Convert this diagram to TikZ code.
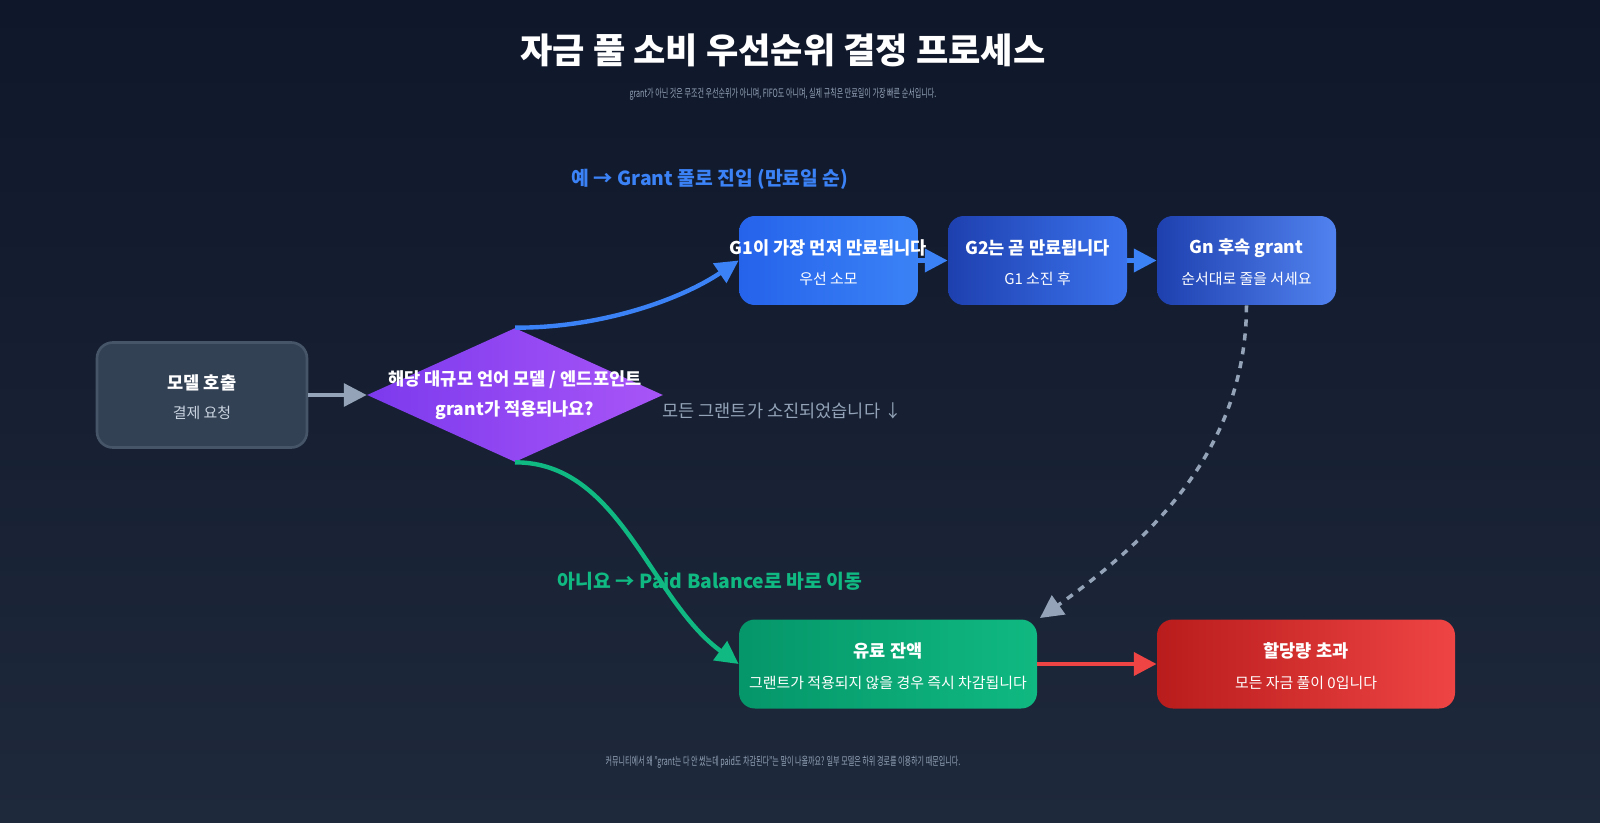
\documentclass[tikz,border=0pt]{standalone}
\usepackage{fontspec}
\usepackage{graphicx}
\setmainfont{Noto Sans CJK KR}
\usetikzlibrary{shapes.geometric,arrows.meta}
\definecolor{bgA}{HTML}{0F172A}\definecolor{bgB}{HTML}{1E293B}
\definecolor{slate}{HTML}{334155}\definecolor{slateB}{HTML}{475569}
\definecolor{gray1}{HTML}{94A3B8}\definecolor{gray2}{HTML}{CBD5E1}
\definecolor{blueA}{HTML}{2563EB}\definecolor{blueB}{HTML}{3B82F6}
\definecolor{blueD}{HTML}{1E40AF}
\definecolor{purA}{HTML}{7C3AED}\definecolor{purB}{HTML}{A855F7}
\definecolor{grnA}{HTML}{059669}\definecolor{grnB}{HTML}{10B981}
\definecolor{redA}{HTML}{B91C1C}\definecolor{redB}{HTML}{EF4444}
\begin{document}
\begin{tikzpicture}[x=0.02cm,y=-0.02cm,
 box/.style={rounded corners=9pt,minimum width=#1*0.02cm,minimum height=1.78cm,align=center,text=white,inner sep=0pt},
 tt/.style={font=\bfseries\fontsize{10}{12}\selectfont},
 st/.style={font=\fontsize{8.5}{10}\selectfont},
 tip/.style={-{Triangle[length=13pt,width=13pt]}},
 lab/.style={font=\bfseries\fontsize{11}{13}\selectfont}]
\shade[top color=bgA,bottom color=bgB] (0,0) rectangle (1600,822);
\useasboundingbox (0,0) rectangle (1600,822);
\node[text=white,font=\bfseries\fontsize{20}{24}\selectfont] (title) at (783,50) {자금 풀 소비 우선순위 결정 프로세스};
\node[text=gray1,font=\fontsize{6.5}{8}\selectfont] (sub) at (783,94) {\scalebox{0.62}[1]{grant가 아닌 것은 무조건 우선순위가 아니며, FIFO도 아니며, 실제 규칙은 만료일이 가장 빠른 순서입니다.}};
\node[box=210,fill=slate,draw=slateB,line width=1.5pt,minimum height=2.1cm] (model) at (202,395) {};
\node[text=white,tt] (mt) at (202,383) {모델 호출};
\node[text=gray2,st] (ms) at (202,413) {결제 요청};
\node[diamond,aspect=2.2,minimum width=5.92cm,minimum height=2.68cm,inner sep=0pt,left color=purA,right color=purB,draw=none] (dec) at (515,395) {};
\node[text=white,font=\bfseries\fontsize{10}{17}\selectfont,align=center] (dect) at (515,395) {해당 대규모 언어 모델 / 엔드포인트\\grant가 적용되나요?};
\node[box=179,left color=blueA,right color=blueB] (g1) at (828.5,260.5) {};
\node[box=179,left color=blueD,right color=blueA!90] (g2) at (1037.5,260.5) {};
\node[box=179,left color=blueD,right color=blueA!80] (gn) at (1246.5,260.5) {};
\node[text=white,tt] at (828.5,248) {G1이 가장 먼저 만료됩니다};
\node[text=white,st] at (828.5,279) {우선 소모};
\node[text=white,tt] at (1037.5,248) {G2는 곧 만료됩니다};
\node[text=white,st] at (1037.5,279) {G1 소진 후};
\node[text=white,tt] at (1246.5,248) {Gn 후속 grant};
\node[text=white,st] at (1246.5,279) {순서대로 줄을 서세요};
\node[box=298,left color=grnA,right color=grnB] (paid) at (888,664) {};
\node[text=white,tt] at (888,651) {유료 잔액};
\node[text=white,st] at (888,683) {그랜트가 적용되지 않을 경우 즉시 차감됩니다};
\node[box=298,left color=redA,right color=redB] (over) at (1306,664) {};
\node[text=white,tt] at (1306,651) {할당량 초과};
\node[text=white,st] at (1306,683) {모든 자금 풀이 0입니다};
\node[text=blueB,lab] (yes) at (710,179) {예 → Grant 풀로 진입 (만료일 순)};
\node[text=grnB,lab] (no) at (710,581) {아니요 → Paid Balance로 바로 이동};
\node[text=gray1,font=\fontsize{10}{12}\selectfont] (exh) at (782,411) {모든 그랜트가 소진되었습니다 ↓};
\draw[gray1,line width=2pt,tip] (model.east) -- (dec.west);
\draw[blueB,line width=2.5pt,tip] (dec.north) .. controls (600,328) and (680,300) .. (g1.west);
\draw[grnB,line width=2.5pt,tip] (dec.south) .. controls (620,462) and (650,600) .. (paid.west);
\draw[blueB,line width=2.5pt,tip] (g1) -- (g2);
\draw[blueB,line width=2.5pt,tip] (g2) -- (gn);
\draw[gray1,line width=2pt,dash pattern=on 4pt off 4pt,tip] (gn.south) .. controls (1246,450) and (1150,540) .. (1040,618);
\draw[redB,line width=2.5pt,tip] (paid) -- (over);
\node[text=gray1,font=\fontsize{6.5}{8}\selectfont] (foot) at (783,762) {\scalebox{0.62}[1]{커뮤니티에서 왜 "grant는 다 안 썼는데 paid도 차감된다"는 말이 나올까요? 일부 모델은 하위 경로를 이용하기 때문입니다.}};
\end{tikzpicture}
\end{document}
